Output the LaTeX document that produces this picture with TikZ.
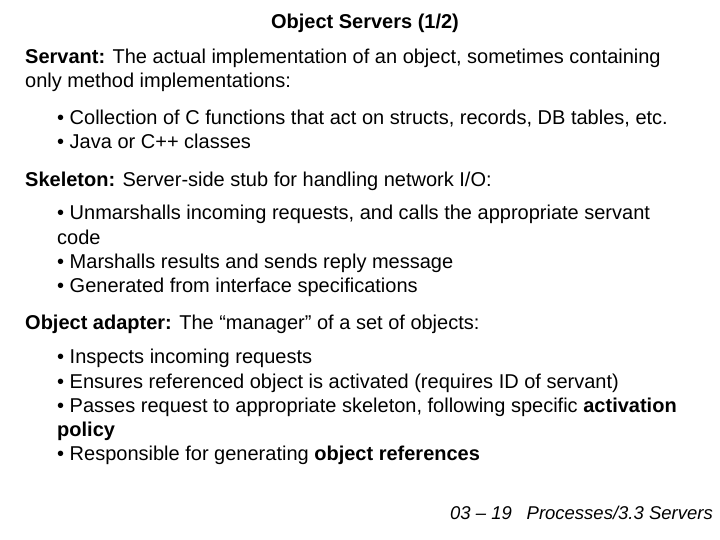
\documentclass[tikz,border=0pt]{standalone}
\usepackage{fontspec}
\setmainfont{Liberation Sans}
\begin{document}
\begin{tikzpicture}[x=1pt,y=-1pt,
  txt/.style={anchor=base west,inner sep=0pt,font=\fontsize{20}{24}\selectfont},
  bl/.style={txt}]
\useasboundingbox (0,0) rectangle (720,540);
\node[anchor=base,inner sep=0pt,font=\fontsize{20}{24}\selectfont\bfseries] (title) at (365,29) {Object Servers (1/2)};
\node[txt] (s1) at (25,64) {\textbf{Servant:} The actual implementation of an object, sometimes containing};
\node[txt] (s2) at (25,88) {only method implementations:};
\node[bl] (s3) at (57,125) {• Collection of C functions that act on structs, records, DB tables, etc.};
\node[bl] (s4) at (57,149) {• Java or C++ classes};
\node[txt] (k1) at (25,187) {\textbf{Skeleton:} Server-side stub for handling network I/O:};
\node[bl] (k2) at (57,220) {• Unmarshalls incoming requests, and calls the appropriate servant};
\node[bl] (k3) at (57,244) {code};
\node[bl] (k4) at (57,268) {• Marshalls results and sends reply message};
\node[bl] (k5) at (57,292) {• Generated from interface specifications};
\node[txt] (o1) at (25,329) {\textbf{Object adapter:} The “manager” of a set of objects:};
\node[bl] (o2) at (57,363) {• Inspects incoming requests};
\node[bl] (o3) at (57,388) {• Ensures referenced object is activated (requires ID of servant)};
\node[bl] (o4) at (57,412) {• Passes request to appropriate skeleton, following specific \textbf{activation}};
\node[bl] (o5) at (57,436) {\textbf{policy}};
\node[bl] (o6) at (57,460) {• Responsible for generating \textbf{object references}};
\node[anchor=base east,inner sep=0pt,font=\fontsize{18.5}{20}\selectfont\itshape] (ft) at (713,519) {03 – 19\hspace{0.8em}Processes/3.3 Servers};
\end{tikzpicture}
\end{document}
